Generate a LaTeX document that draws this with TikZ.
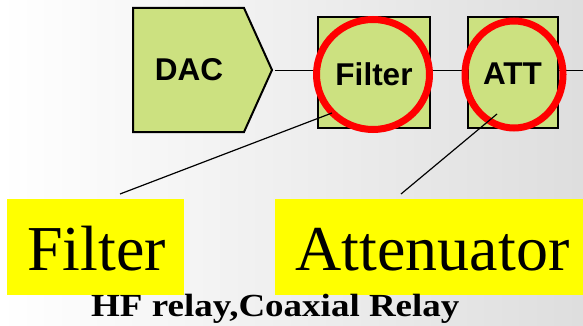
\documentclass[tikz,border=0pt]{standalone}
\usepackage{fontspec}
\setmainfont{Liberation Serif}
\newfontfamily\blockfont{Liberation Sans}
\usetikzlibrary{shapes.geometric}
\definecolor{blockgreen}{RGB}{204,225,128}
\definecolor{hiyellow}{RGB}{255,255,0}
\begin{document}
\begin{tikzpicture}[x=1pt,y=-1pt,
  blockbox/.style={draw=black,line width=2pt,fill=blockgreen,inner sep=0pt},
  blocktext/.style={font=\blockfont\bfseries\fontsize{31.5}{33}\selectfont,inner sep=0pt,anchor=base},
  redring/.style={draw=red,line width=7pt},
  wire/.style={draw=black,line width=1.5pt},
  leader/.style={draw=black,line width=1.2pt},
  hibox/.style={fill=hiyellow,draw=none},
  bigtext/.style={font=\fontsize{64}{70}\selectfont,inner sep=0pt,anchor=base west},
  captiontext/.style={font=\bfseries\fontsize{37}{40}\selectfont,inner sep=0pt,anchor=base west}
]
\useasboundingbox (0,0) rectangle (583,326);
\shade[left color=white,right color=black!13] (0,0) rectangle (583,326);
% DAC pentagon
\coordinate (dacA) at (133,8);
\coordinate (dacB) at (244,8);
\coordinate (dactip) at (272,70);
\coordinate (dacC) at (244,132);
\coordinate (dacD) at (133,132);
\draw[blockbox] (dacA) -- (dacB) -- (dactip) -- (dacC) -- (dacD) -- cycle;
\node[blocktext,font=\blockfont\bfseries\fontsize{31.5}{33}\selectfont] (dac) at (189,80.7) {DAC};
% boxes
\node[blockbox,minimum width=112pt,minimum height=111pt] (filterbox) at (374,72.5) {};
\node[blockbox,minimum width=90pt,minimum height=111pt] (attbox) at (513,72.5) {};
% wires
\coordinate (dacout) at (275,70.5);
\coordinate (rightend) at (583,70.5);
\draw[wire] (dacout) -- (filterbox.west |- dacout);
\draw[wire] (filterbox.east |- dacout) -- (attbox.west |- dacout);
\draw[wire] (attbox.east |- dacout) -- (rightend);
% red rings
\draw[redring] (373,74.5) ellipse [x radius=56.5, y radius=55];
\draw[redring] (514,74.5) ellipse [x radius=49, y radius=53.5];
% block texts
\node[blocktext] (filtertxt) at (374,85.5) {Filter};
\node[blocktext] (atttxt) at (512.5,85) {ATT};
% yellow highlight boxes
\fill[hibox] (7,199) rectangle (184,295);
\fill[hibox] (275,199) rectangle (583,295);
\node[bigtext] (filterlabel) at (27,270.7) {Filter};
\node[bigtext] (attlabel) at (295.5,270.7) {Attenuator};
% leaders
\coordinate (fl1) at (332,113);
\coordinate (fl2) at (120,194);
\coordinate (al1) at (497,114);
\coordinate (al2) at (401,194);
\draw[leader] (fl1) -- (fl2);
\draw[leader] (al1) -- (al2);
% caption
\node[captiontext] (caption) at (91,316.7) {\scalebox{1}[0.87]{HF relay,Coaxial Relay}};
\end{tikzpicture}
\end{document}
